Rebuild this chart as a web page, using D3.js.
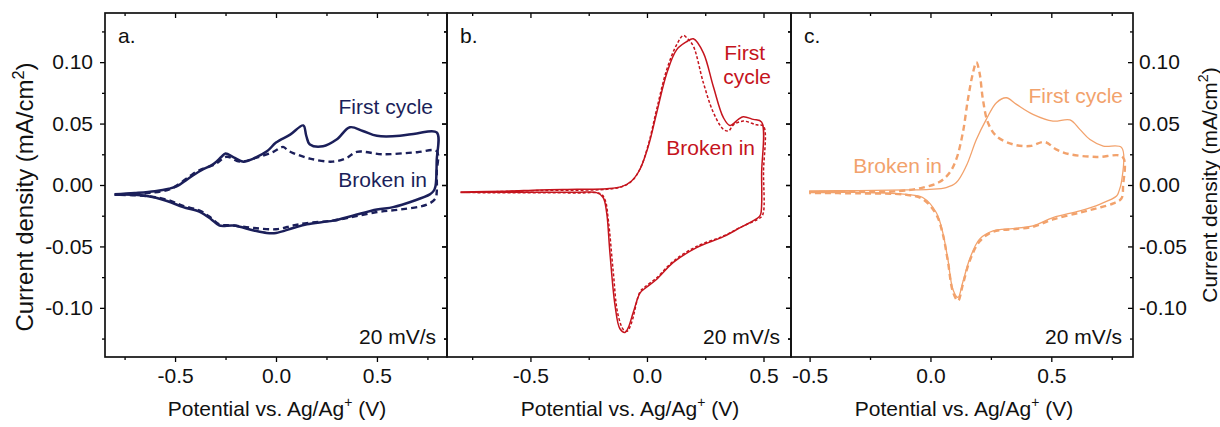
<!DOCTYPE html>
<html>
<head>
<meta charset="utf-8">
<script src="https://cdn.jsdelivr.net/npm/d3@7/dist/d3.min.js"></script>
<style>
	body { margin:0; background:#fff; }
	svg text { font-family:"Liberation Sans", Arial, sans-serif; }
</style>
</head>
<body>
<svg id="svg" width="1220" height="427"></svg>
<script>

// [potential (V), current density (mA/cm2)], loop order
var aFirst = [[-0.80,-0.0076],[-0.70,-0.0065],[-0.60,-0.005],[-0.53,-0.003],[-0.49,-0.001],[-0.44,0.0046],[-0.40,0.009],[-0.36,0.0128],[-0.31,0.017],[-0.27,0.023],[-0.25,0.0257],[-0.21,0.0225],[-0.16,0.019],[-0.11,0.0217],[-0.045,0.0274],[0.0,0.0345],[0.07,0.041],[0.135,0.0485],[0.15,0.040],[0.168,0.033],[0.233,0.0315],[0.30,0.037],[0.366,0.047],[0.43,0.044],[0.5,0.040],[0.614,0.040],[0.697,0.042],[0.796,0.0428],[0.796,0.02],[0.79,-0.001],[0.78,-0.005],[0.762,-0.0076],[0.68,-0.013],[0.58,-0.018],[0.5,-0.020],[0.38,-0.025],[0.283,-0.029],[0.153,-0.032],[0.085,-0.035],[0.0,-0.039],[-0.046,-0.039],[-0.11,-0.037],[-0.21,-0.033],[-0.28,-0.033],[-0.32,-0.028],[-0.375,-0.022],[-0.46,-0.018],[-0.54,-0.013],[-0.64,-0.009],[-0.80,-0.0076]];
var aBroken = [[-0.80,-0.0080],[-0.70,-0.007],[-0.60,-0.006],[-0.52,-0.003],[-0.47,0.002],[-0.42,0.008],[-0.38,0.012],[-0.30,0.017],[-0.245,0.023],[-0.18,0.019],[-0.10,0.022],[-0.013,0.027],[0.035,0.031],[0.06,0.028],[0.085,0.026],[0.168,0.0215],[0.28,0.019],[0.35,0.022],[0.40,0.027],[0.53,0.025],[0.70,0.0267],[0.796,0.0275],[0.796,0.01],[0.796,-0.006],[0.79,-0.011],[0.747,-0.016],[0.614,-0.020],[0.5,-0.022],[0.38,-0.026],[0.283,-0.029],[0.153,-0.031],[0.085,-0.033],[0.0,-0.036],[-0.11,-0.035],[-0.21,-0.033],[-0.28,-0.032],[-0.32,-0.027],[-0.375,-0.021],[-0.46,-0.017],[-0.54,-0.012],[-0.64,-0.009],[-0.80,-0.0080]];

var bFirst = [[-0.80,-0.0057],[-0.60,-0.005],[-0.46,-0.004],[-0.30,-0.0035],[-0.173,-0.003],[-0.109,-0.0013],[-0.066,0.0033],[-0.03,0.0128],[0.006,0.0317],[0.042,0.059],[0.085,0.091],[0.127,0.110],[0.17,0.1166],[0.199,0.119],[0.242,0.1076],[0.285,0.080],[0.328,0.0548],[0.356,0.0485],[0.392,0.0534],[0.413,0.0556],[0.456,0.0534],[0.492,0.0512],[0.492,0.01],[0.488,-0.0238],[0.478,-0.0265],[0.40,-0.0347],[0.328,-0.042],[0.213,-0.051],[0.113,-0.063],[0.042,-0.0767],[-0.009,-0.0842],[-0.03,-0.088],[-0.059,-0.1038],[-0.08,-0.116],[-0.094,-0.120],[-0.116,-0.117],[-0.137,-0.098],[-0.159,-0.055],[-0.173,-0.0224],[-0.188,-0.0102],[-0.216,-0.0062],[-0.30,-0.006],[-0.46,-0.006],[-0.80,-0.0057]];
var bBroken = [[-0.80,-0.0062],[-0.46,-0.0045],[-0.173,-0.0035],[-0.109,-0.0015],[-0.066,0.003],[-0.03,0.013],[0.006,0.033],[0.042,0.062],[0.085,0.094],[0.127,0.114],[0.156,0.1217],[0.175,0.119],[0.199,0.113],[0.242,0.0832],[0.285,0.059],[0.328,0.0453],[0.35,0.044],[0.371,0.049],[0.413,0.052],[0.47,0.049],[0.50,0.048],[0.50,0.01],[0.50,-0.022],[0.49,-0.026],[0.40,-0.0345],[0.328,-0.0415],[0.213,-0.050],[0.113,-0.062],[0.042,-0.0755],[-0.009,-0.083],[-0.03,-0.087],[-0.066,-0.112],[-0.085,-0.119],[-0.10,-0.118],[-0.125,-0.105],[-0.145,-0.07],[-0.165,-0.03],[-0.18,-0.012],[-0.20,-0.007],[-0.30,-0.0065],[-0.80,-0.0062]];

var cFirst = [[-0.502,-0.0049],[-0.30,-0.0045],[-0.10,-0.004],[-0.004,-0.0035],[0.065,-0.0021],[0.107,0.002],[0.148,0.0154],[0.19,0.037],[0.231,0.0534],[0.273,0.067],[0.314,0.071],[0.356,0.0656],[0.424,0.0575],[0.507,0.052],[0.577,0.053],[0.618,0.0453],[0.66,0.037],[0.715,0.0317],[0.791,0.0304],[0.791,0.0033],[0.78,-0.005],[0.77,-0.009],[0.70,-0.0157],[0.618,-0.021],[0.507,-0.0265],[0.424,-0.0333],[0.341,-0.0355],[0.259,-0.0374],[0.203,-0.0441],[0.162,-0.0604],[0.134,-0.079],[0.114,-0.0915],[0.093,-0.085],[0.072,-0.0604],[0.051,-0.0387],[0.024,-0.0224],[-0.032,-0.0102],[-0.1,-0.0076],[-0.3,-0.006],[-0.502,-0.0057]];
var cBroken = [[-0.502,-0.0058],[-0.30,-0.0055],[-0.13,-0.005],[-0.032,-0.0021],[0.037,0.0024],[0.079,0.010],[0.107,0.021],[0.134,0.0426],[0.155,0.0697],[0.176,0.0914],[0.19,0.100],[0.203,0.0914],[0.217,0.0697],[0.238,0.0507],[0.273,0.0398],[0.341,0.0331],[0.411,0.0317],[0.473,0.035],[0.52,0.029],[0.577,0.025],[0.688,0.0228],[0.795,0.0228],[0.797,-0.0004],[0.79,-0.011],[0.757,-0.0149],[0.688,-0.019],[0.618,-0.0225],[0.507,-0.028],[0.424,-0.034],[0.341,-0.036],[0.259,-0.038],[0.203,-0.046],[0.162,-0.062],[0.134,-0.081],[0.114,-0.0943],[0.093,-0.087],[0.072,-0.062],[0.051,-0.040],[0.024,-0.024],[-0.032,-0.0115],[-0.1,-0.008],[-0.3,-0.0068],[-0.502,-0.0066]];

// tick values
var xMajor = [-0.5, 0, 0.5];
var xMinor = [-0.75, -0.25, 0.25, 0.75];
var yMajor = [-0.10, -0.05, 0, 0.05, 0.10];
var yMinor = [-0.125, -0.075, -0.025, 0.025, 0.075, 0.125];

var panelLetters = ["a.", "b.", "c."];
var rateLabel = "20 mV/s";

// layout of the three frames (pixels) and their potential windows
var plotTop = 13, plotBottom = 357;
var panels = [
	{ left:105, right:447, xDomain:[-0.847, 0.847], color:"#1b1f5a", first:aFirst, broken:aBroken,
	  firstW:2.5, brokenW:2.4, dash:"6,4", titleShift:1 },
	{ left:447, right:791, xDomain:[-0.858, 0.618], color:"#c5141d", first:bFirst, broken:bBroken,
	  firstW:1.5, brokenW:1.5, dash:"3,2", titleShift:11 },
	{ left:791, right:1133, xDomain:[-0.577, 0.838], color:"#f2a26c", first:cFirst, broken:cBroken,
	  firstW:1.3, brokenW:2.4, dash:"6,4", titleShift:2 }
];

var svg = d3.select("#svg");
var y = d3.scaleLinear().domain([-0.14, 0.14]).range([plotBottom, plotTop]);

var fontSize = 21;

panels.forEach(function( p , i ) {

	var x = d3.scaleLinear().domain( p.xDomain ).range([ p.left, p.right ]);
	var g = svg.append("g");

	// clipping
	g.append("clipPath").attr("id", "clip" + i)
		.append("rect")
		.attr("x", p.left).attr("y", plotTop)
		.attr("width", p.right - p.left).attr("height", plotBottom - plotTop);

	var line = d3.line()
		.x(function(d){ return x(d[0]); })
		.y(function(d){ return y(d[1]); })
		.curve(d3.curveCatmullRom.alpha(0.5));

	var curves = g.append("g").attr("clip-path", "url(#clip" + i + ")");

	curves.append("path")
		.datum( p.broken )
		.attr("d", line)
		.attr("fill", "none")
		.attr("stroke", p.color)
		.attr("stroke-width", p.brokenW)
		.attr("stroke-dasharray", p.dash);

	curves.append("path")
		.datum( p.first )
		.attr("d", line)
		.attr("fill", "none")
		.attr("stroke", p.color)
		.attr("stroke-width", p.firstW)
		.attr("stroke-linejoin", "round");

	////////////////////////////
	// x axes, bottom outward, top inward

	var addX = function( ticks, size, labels ) {
		var bot = g.append("g").attr("transform", "translate(0," + plotBottom + ")")
			.call( d3.axisBottom(x).tickValues(ticks).tickSizeInner(size).tickSizeOuter(0).tickPadding(6)
				.tickFormat( labels ? d3.format(".1f") : "" ) );
		var tp = g.append("g").attr("transform", "translate(0," + plotTop + ")")
			.call( d3.axisTop(x).tickValues(ticks).tickSizeInner(-size).tickSizeOuter(0).tickFormat("") );
		[bot, tp].forEach(function(a){ a.select(".domain").remove(); a.selectAll("line").attr("stroke-width", 1.3); });
		bot.selectAll("text").attr("font-size", fontSize).attr("fill", "#111")
			.text(function(d){ return labels ? d3.format(".1f")(d).replace("\u2212", "-") : ""; });
	};
	addX( xMajor.filter(function(v){ return v >= p.xDomain[0] && v <= p.xDomain[1]; }), 5, true );
	addX( xMinor.filter(function(v){ return v >= p.xDomain[0] && v <= p.xDomain[1]; }), 3, false );

	////////////////////////////
	// y ticks, always pointing left of each vertical frame line

	[p.left, p.right].forEach(function( xpos , side ) {
		var showLeft = ( i == 0 && side == 0 );
		var showRight = ( i == 2 && side == 1 );
		var ax, axm;
		if ( showRight ) {
			ax = d3.axisRight(y).tickValues(yMajor).tickSizeInner(-5).tickSizeOuter(0).tickPadding(6);
			axm = d3.axisRight(y).tickValues(yMinor).tickSizeInner(-3).tickSizeOuter(0).tickFormat("");
		} else {
			ax = d3.axisLeft(y).tickValues(yMajor).tickSizeInner(5).tickSizeOuter(0).tickPadding(7);
			axm = d3.axisLeft(y).tickValues(yMinor).tickSizeInner(3).tickSizeOuter(0).tickFormat("");
		}
		if ( !showLeft && !showRight ) ax.tickFormat("");
		else ax.tickFormat(function(d){ return d3.format(".2f")(d).replace("\u2212", "-"); });

		[ax, axm].forEach(function(a){
			var ag = g.append("g").attr("transform", "translate(" + xpos + ",0)").call(a);
			ag.select(".domain").remove();
			ag.selectAll("line").attr("stroke-width", 1.3);
			ag.selectAll("text").attr("font-size", fontSize).attr("fill", "#111");
		});
	});

	// frame
	g.append("rect")
		.attr("x", p.left).attr("y", plotTop)
		.attr("width", p.right - p.left).attr("height", plotBottom - plotTop)
		.attr("fill", "none").attr("stroke", "#111").attr("stroke-width", 1.7);

	// x title
	var xt = g.append("text")
		.attr("x", (p.left + p.right) / 2 + p.titleShift).attr("y", 416)
		.attr("text-anchor", "middle").attr("font-size", fontSize).attr("fill", "#111");
	xt.append("tspan").text("Potential vs. Ag/Ag");
	xt.append("tspan").attr("dy", -9).attr("font-size", 14).text("+");
	xt.append("tspan").attr("dy", 9).text(" (V)");

	// panel letter and scan rate
	g.append("text").attr("x", p.left + 13).attr("y", 43)
		.attr("font-size", fontSize).attr("fill", "#111").text( panelLetters[i] );
	g.append("text").attr("x", p.right - 11).attr("y", 344)
		.attr("text-anchor", "end").attr("font-size", fontSize).attr("fill", "#111").text( rateLabel );
});

// y titles
var yTitle = function( cx, cy, size ) {
	var t = svg.append("text")
		.attr("transform", "translate(" + cx + "," + cy + ") rotate(-90)")
		.attr("text-anchor", "middle").attr("font-size", size).attr("fill", "#111");
	t.append("tspan").text("Current density (mA/cm");
	t.append("tspan").attr("dy", -9).attr("font-size", size * 0.68).text("2");
	t.append("tspan").attr("dy", 9).text(")");
};
yTitle( 33, 197, 24 );
yTitle( 1217, 185, 21 );

// curve annotations
var notes = [
	{ text:"First cycle", x:433, y:114, color:panels[0].color },
	{ text:"Broken in",   x:427, y:187, color:panels[0].color },
	{ text:"First",       x:765, y:60,  color:panels[1].color },
	{ text:"cycle",       x:771, y:84,  color:panels[1].color },
	{ text:"Broken in",   x:755, y:155, color:panels[1].color },
	{ text:"First cycle", x:1123, y:103, color:panels[2].color },
	{ text:"Broken in",   x:942, y:173, color:panels[2].color }
];
svg.selectAll("text.note")
	.data( notes )
	.enter().append("text")
	.attr("class", "note")
	.attr("x", function(d){ return d.x; })
	.attr("y", function(d){ return d.y; })
	.attr("text-anchor", "end")
	.attr("font-size", fontSize)
	.attr("fill", function(d){ return d.color; })
	.text(function(d){ return d.text; });

</script>
